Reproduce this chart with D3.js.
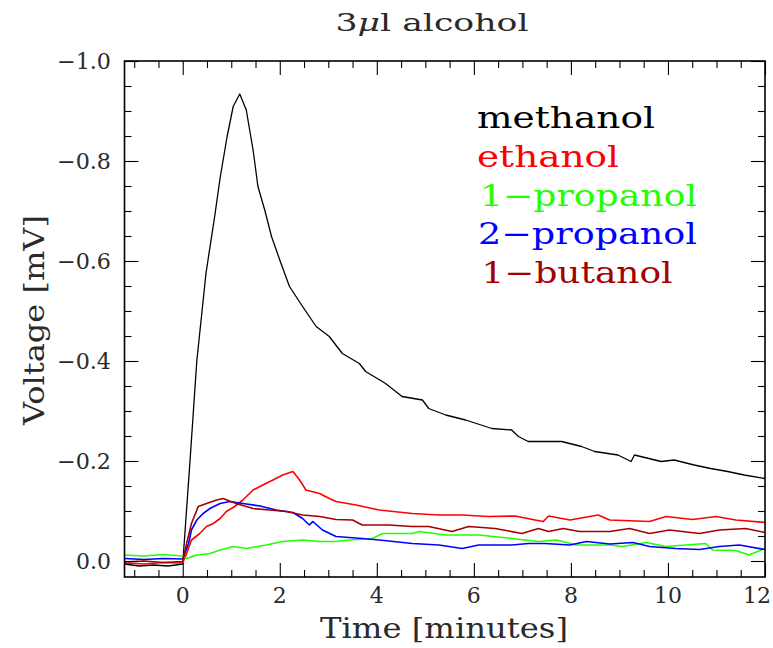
<!DOCTYPE html>
<html>
<head>
<meta charset="utf-8">
<script src="https://cdn.jsdelivr.net/npm/d3@7"></script>
<style>
  html, body { margin: 0; padding: 0; background: #fff; }
  svg { display: block; }
  text { font-family: "DejaVu Serif", serif; }
</style>
</head>
<body>
<svg id="chart" width="773" height="648"></svg>
<script>
// ---- data (time in minutes, voltage in mV) ----
const seriesNames = ["methanol", "ethanol", "1\u2212propanol", "2\u2212propanol", "1\u2212butanol"];
const seriesColors = ["#000000", "#ff0000", "#22ff00", "#0000ff", "#a50000"];

const methanol = [[-1.2,0.006],[-0.9,0.01],[-0.6,0.008],[-0.3,0.01],[0,0.006],[0.15,-0.2],[0.29,-0.4],[0.48,-0.576],[0.66,-0.69],[0.77,-0.766],[0.915,-0.849],[1.04,-0.909],[1.175,-0.934],[1.31,-0.902],[1.45,-0.822],[1.55,-0.749],[1.69,-0.702],[1.83,-0.649],[2.0,-0.602],[2.2,-0.549],[2.47,-0.509],[2.75,-0.469],[3.02,-0.449],[3.29,-0.415],[3.64,-0.395],[3.77,-0.379],[4.18,-0.355],[4.52,-0.329],[4.94,-0.322],[5.07,-0.305],[5.42,-0.292],[5.83,-0.282],[6.37,-0.265],[6.78,-0.262],[6.92,-0.249],[7.12,-0.239],[7.81,-0.239],[8.22,-0.229],[8.49,-0.219],[8.97,-0.212],[9.24,-0.199],[9.31,-0.212],[9.86,-0.199],[10.13,-0.202],[10.54,-0.192],[10.88,-0.185],[11.23,-0.179],[11.57,-0.172],[12.0,-0.165]];

const ethanol = [[-1.2,0.004],[-0.8,0.006],[-0.4,0.003],[0,0.004],[0.08,-0.015],[0.18,-0.042],[0.35,-0.055],[0.49,-0.069],[0.63,-0.075],[0.77,-0.085],[0.9,-0.099],[1.07,-0.109],[1.24,-0.122],[1.45,-0.142],[1.65,-0.152],[1.86,-0.162],[2.06,-0.172],[2.27,-0.179],[2.41,-0.162],[2.54,-0.142],[2.82,-0.135],[3.02,-0.125],[3.16,-0.119],[3.57,-0.112],[4.05,-0.102],[4.73,-0.095],[5.28,-0.092],[5.76,-0.092],[6.3,-0.089],[6.85,-0.09],[7.26,-0.082],[7.43,-0.079],[7.54,-0.09],[7.98,-0.082],[8.56,-0.092],[8.8,-0.082],[9.62,-0.079],[9.96,-0.089],[10.51,-0.083],[10.99,-0.089],[11.4,-0.082],[12.0,-0.077]];

const propanol1 = [[-1.2,-0.012],[-0.8,-0.01],[-0.4,-0.013],[0,-0.01],[0.08,-0.005],[0.29,-0.012],[0.56,-0.015],[0.77,-0.022],[1.04,-0.029],[1.31,-0.025],[1.72,-0.032],[2.06,-0.039],[2.47,-0.042],[2.82,-0.039],[3.16,-0.039],[3.43,-0.042],[3.91,-0.045],[4.12,-0.055],[4.73,-0.055],[4.87,-0.059],[5.42,-0.052],[6.1,-0.052],[6.78,-0.045],[7.33,-0.039],[7.7,-0.042],[8.11,-0.032],[8.8,-0.032],[9.07,-0.029],[9.55,-0.037],[9.96,-0.029],[10.78,-0.035],[10.92,-0.022],[11.4,-0.021],[11.67,-0.012],[12.0,-0.025]];

const propanol2 = [[-1.2,-0.005],[-0.8,-0.003],[-0.4,-0.005],[0,-0.004],[0.12,-0.035],[0.18,-0.062],[0.29,-0.082],[0.42,-0.095],[0.56,-0.105],[0.77,-0.115],[0.97,-0.119],[1.24,-0.115],[1.59,-0.11],[1.93,-0.102],[2.27,-0.097],[2.47,-0.085],[2.61,-0.072],[2.68,-0.079],[2.88,-0.062],[3.16,-0.049],[3.7,-0.045],[4.05,-0.042],[4.73,-0.035],[5.28,-0.032],[5.76,-0.025],[6.1,-0.032],[6.78,-0.032],[7.12,-0.035],[7.46,-0.035],[7.98,-0.032],[8.32,-0.039],[8.8,-0.034],[9.28,-0.037],[9.62,-0.029],[10.16,-0.025],[10.65,-0.023],[11.06,-0.029],[11.47,-0.032],[12.0,-0.023]];

const butanol1 = [[-1.2,0.002],[-0.8,0.0],[-0.4,0.003],[0,0.001],[0.08,-0.035],[0.18,-0.075],[0.32,-0.109],[0.49,-0.115],[0.7,-0.122],[0.83,-0.125],[1.1,-0.115],[1.45,-0.105],[1.79,-0.102],[2.13,-0.099],[2.47,-0.092],[2.82,-0.089],[3.16,-0.083],[3.5,-0.082],[3.7,-0.072],[4.25,-0.072],[4.73,-0.069],[5.07,-0.069],[5.55,-0.059],[5.89,-0.069],[6.44,-0.065],[6.99,-0.055],[7.33,-0.065],[7.54,-0.059],[7.84,-0.065],[8.18,-0.059],[8.8,-0.059],[9.21,-0.065],[9.62,-0.055],[10.03,-0.062],[10.65,-0.055],[11.06,-0.062],[11.6,-0.065],[12.0,-0.057]];

const xMajorTicks = [0, 2, 4, 6, 8, 10, 12];
const yMajorTicks = [-1.0, -0.8, -0.6, -0.4, -0.2, 0.0];
const titleText = "alcohol";
const xLabel = "Time [minutes]";
const yLabel = "Voltage [mV]";

// ---- layout ----
const svg = d3.select("#chart");
const L = 124.5, R = 765, T = 61, B = 577;
const x = d3.scaleLinear().domain([-1.2, 12]).range([L, R]);
const y = d3.scaleLinear().domain([0.032, -1.0]).range([B, T]);
const ink = "#2a2a2a";

const allSeries = [methanol, ethanol, propanol1, propanol2, butanol1];

svg.append("defs").append("clipPath").attr("id", "clip")
  .append("rect").attr("x", L).attr("y", T).attr("width", R - L).attr("height", B - T);

const line = d3.line().x(d => x(d[0])).y(d => y(d[1]));
const plot = svg.append("g").attr("clip-path", "url(#clip)");
allSeries.forEach((s, i) => {
  plot.append("path").datum(s)
    .attr("d", line)
    .attr("fill", "none")
    .attr("stroke", seriesColors[i])
    .attr("stroke-width", i === 0 ? 1.3 : 1.6)
    .attr("stroke-linejoin", "round");
});

// ---- axes (ticks inside, all four sides) ----
const xMinor = d3.range(-1.0, 12.01, 0.5).filter(v => Math.abs(v / 2 - Math.round(v / 2)) > 1e-6);
const yMinor = d3.range(-1.0, 0.001, 0.05).map(v => +v.toFixed(2)).filter(v => Math.abs(v / 0.2 - Math.round(v / 0.2)) > 1e-6);
const fmt = d3.format(".1f");

function styleAxis(g) {
  g.select(".domain").remove();
  g.selectAll(".tick line").attr("stroke", "#000").attr("stroke-width", 1.1);
}
[[d3.axisBottom, B], [d3.axisTop, T]].forEach(([ax, pos]) => {
  svg.append("g").attr("transform", `translate(0,${pos})`)
    .call(ax(x).tickValues(xMajorTicks).tickSize(-14).tickFormat(""))
    .call(styleAxis);
  svg.append("g").attr("transform", `translate(0,${pos})`)
    .call(ax(x).tickValues(xMinor).tickSize(-7).tickFormat(""))
    .call(styleAxis);
});
[[d3.axisLeft, L], [d3.axisRight, R]].forEach(([ax, pos]) => {
  svg.append("g").attr("transform", `translate(${pos},0)`)
    .call(ax(y).tickValues(yMajorTicks).tickSize(-14).tickFormat(""))
    .call(styleAxis);
  svg.append("g").attr("transform", `translate(${pos},0)`)
    .call(ax(y).tickValues(yMinor).tickSize(-7).tickFormat(""))
    .call(styleAxis);
});

// frame
svg.append("rect").attr("x", L).attr("y", T).attr("width", R - L).attr("height", B - T)
  .attr("fill", "none").attr("stroke", "#000").attr("stroke-width", 1.6);

// tick labels
svg.append("g").selectAll("text").data(xMajorTicks).join("text")
  .attr("x", d => d === 12 ? 771 : x(d)).attr("y", 603)
  .attr("text-anchor", d => d === 12 ? "end" : "middle")
  .attr("font-size", 22).attr("fill", ink)
  .text(d => d);
svg.append("g").selectAll("text").data(yMajorTicks).join("text")
  .attr("x", 111).attr("y", d => y(d) + 8)
  .attr("text-anchor", "end").attr("font-size", 22).attr("fill", ink)
  .attr("textLength", d => d < 0 ? 54 : 35).attr("lengthAdjust", "spacingAndGlyphs")
  .text(d => fmt(d));

// axis titles
svg.append("text").attr("x", 444).attr("y", 638)
  .attr("text-anchor", "middle").attr("font-size", 27).attr("fill", ink)
  .attr("textLength", 248).attr("lengthAdjust", "spacingAndGlyphs")
  .text(xLabel);
svg.append("text").attr("transform", "translate(44,320) rotate(-90)")
  .attr("text-anchor", "middle").attr("font-size", 28).attr("fill", ink)
  .attr("textLength", 210).attr("lengthAdjust", "spacingAndGlyphs")
  .text(yLabel);

// title
const title = svg.append("text").attr("x", 432).attr("y", 31)
  .attr("text-anchor", "middle").attr("font-size", 25).attr("fill", ink)
  .attr("textLength", 193).attr("lengthAdjust", "spacingAndGlyphs");
title.append("tspan").text("3");
title.append("tspan").attr("font-style", "italic").text("\u03bc");
title.append("tspan").text("l " + titleText);

// legend
const legendWidths = [178, 142, 217, 219, 191];
const legendX = [477, 477, 480, 478, 481.5];
svg.append("g").selectAll("text").data(seriesNames).join("text")
  .attr("x", (d, i) => legendX[i]).attr("y", (d, i) => 128.3 + i * 38.6)
  .attr("font-size", 29).attr("fill", (d, i) => seriesColors[i])
  .attr("textLength", (d, i) => legendWidths[i]).attr("lengthAdjust", "spacingAndGlyphs")
  .text(d => d);
</script>
</body>
</html>
